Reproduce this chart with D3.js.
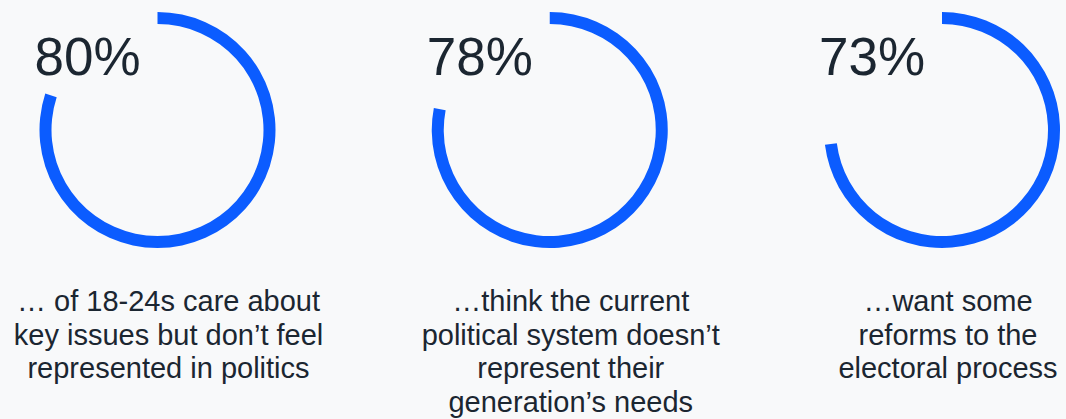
<!DOCTYPE html>
<html lang="en">
    <head>
        <meta charset="utf-8">
        <title>Young people and politics</title>
        <script src="https://d3js.org/d3.v7.min.js"></script>
        <style type="text/css">
            html, body{
                margin: 0;
                padding: 0;
                background: #f8f9fa;
            }
            svg{
                width: 1066px;
                height: 419px;
                display: block;
            }
            .pct{
                font-family: "Liberation Sans", Arial, sans-serif;
                font-size: 53px;
                fill: #1b2631;
            }
            .label{
                font-family: "Liberation Sans", Arial, sans-serif;
                font-size: 29px;
                fill: #1b2631;
            }
        </style>
    </head>
    <body>
        <svg></svg>
        <script type="text/javascript">

        const w = 1066;
        const h = 419;

        //DATA
        const stats = ["young", "system", "reform"];
        const values = [80, 78, 73];
        const labels = [
            ["\u2026 of 18-24s care about", "key issues but don\u2019t feel", "represented in politics"],
            ["\u2026think the current", "political system doesn\u2019t", "represent their", "generation\u2019s needs"],
            ["\u2026want some", "reforms to the", "electoral process"]
        ];

        //LAYOUT
        const ringY = 130;
        const outerR = 118;
        const innerR = 106;
        const labelShift = [11, 21, 6];
        const blue = "#0b5cff";

        //SCALES
        const x = d3.scalePoint()
                    .domain(stats)
                    .range([157.5, 942]);

        const angle = d3.scaleLinear()
                        .domain([0, 100])
                        .range([0, 2 * Math.PI]);

        const arc = d3.arc()
                      .innerRadius(innerR)
                      .outerRadius(outerR)
                      .startAngle(0)
                      .endAngle(d => angle(d));

        const svg = d3.select("svg");

        const groups = svg.selectAll("g.stat")
                          .data(stats)
                          .join("g")
                          .attr("class", "stat")
                          .attr("transform", d => `translate(${x(d)},0)`);

        //RINGS
        groups.append("path")
              .attr("transform", `translate(0,${ringY})`)
              .attr("d", (d, i) => arc(values[i]))
              .attr("fill", blue);

        //PERCENTAGES
        groups.append("text")
              .attr("class", "pct")
              .attr("x", -123)
              .attr("y", 75)
              .text((d, i) => values[i] + "%");

        //LABELS
        groups.append("text")
              .attr("class", "label")
              .attr("text-anchor", "middle")
              .selectAll("tspan")
              .data((d, i) => labels[i].map(t => ({t, i})))
              .join("tspan")
              .attr("x", d => labelShift[d.i])
              .attr("y", (d, j) => 311 + j * 33.5)
              .text(d => d.t);

        </script>
    </body>
</html>
